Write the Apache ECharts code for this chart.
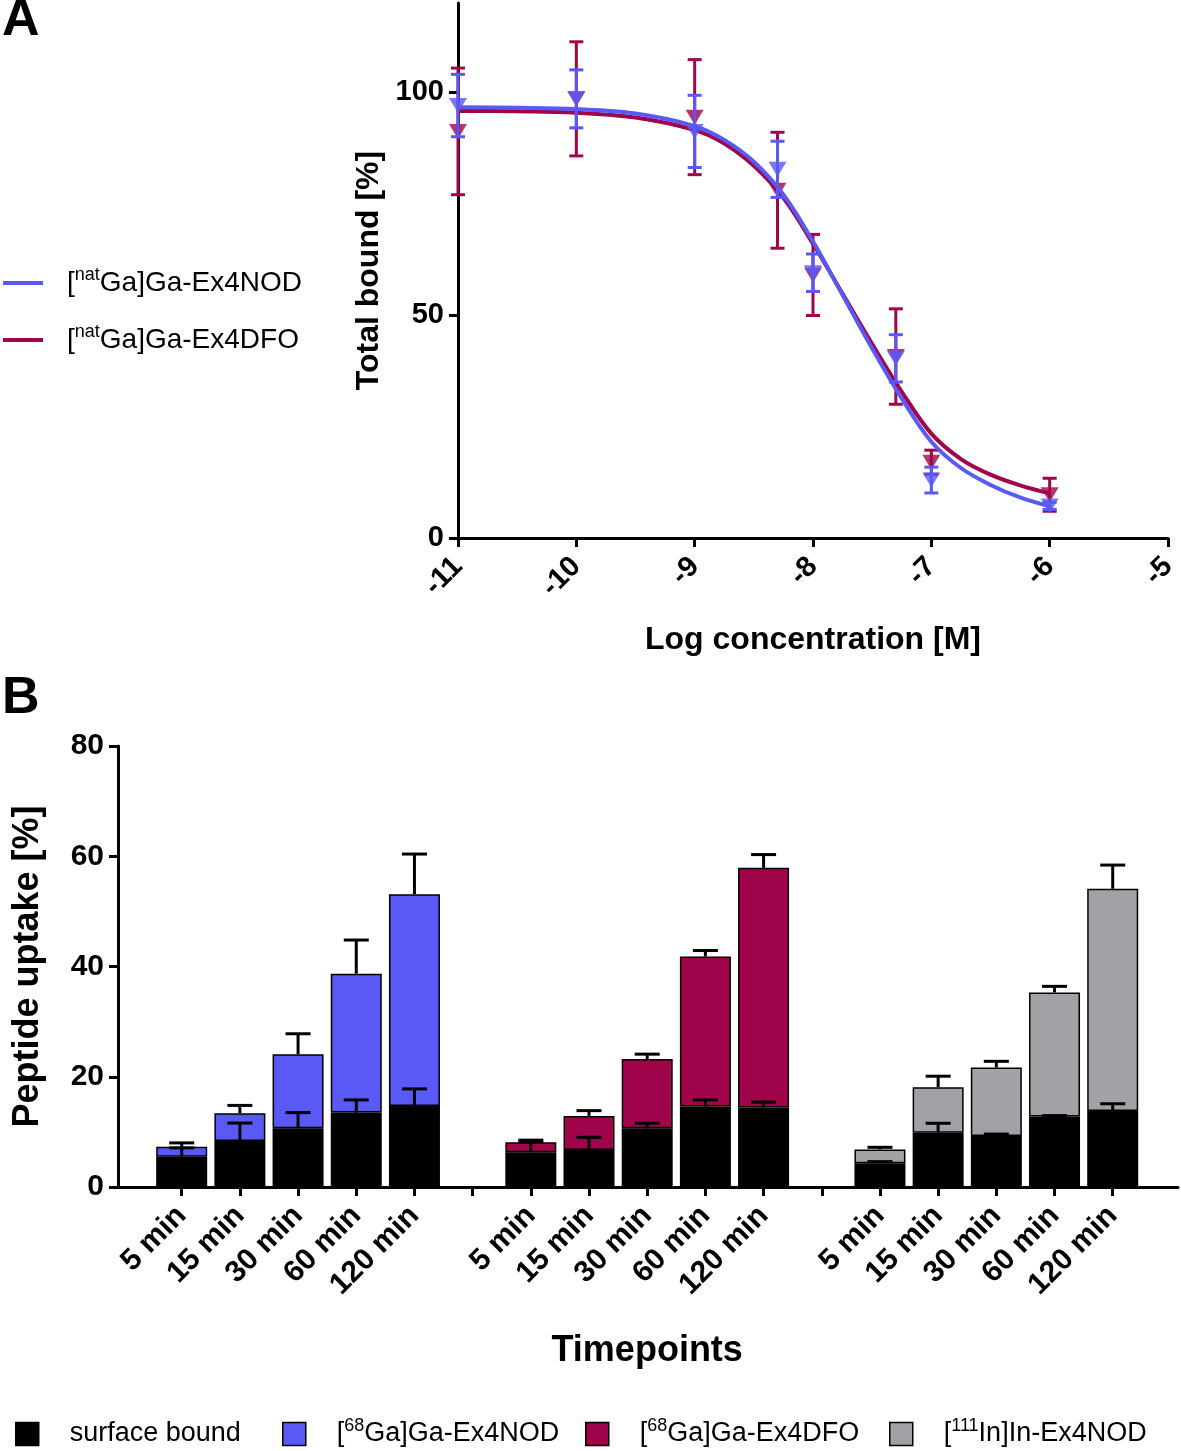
<!DOCTYPE html>
<html><head><meta charset="utf-8">
<script src="https://cdn.jsdelivr.net/npm/echarts@6/dist/echarts.min.js"></script>
<style>html,body{margin:0;padding:0;background:#fff}#c{width:1181px;height:1451px}</style>
</head><body><div id="c"></div>
<script>
const FONT = '"Liberation Sans", Arial, Helvetica, sans-serif';

// ---------- Panel A data ----------
const logConc = [-11, -10, -9, -8.3, -8, -7.3, -7, -6];
const nodMean = [97, 98.5, 91.2, 82.7, 59.5, 40.3, 13, 7.2];
const nodSD   = [7, 6.5, 8.1, 6.3, 4.2, 5.3, 2.9, 0.8];
const dfoMean = [91.2, 98.5, 94.4, 78, 59, 40.7, 17, 9.7];
const dfoSD   = [14.2, 12.8, 12.9, 13, 9.1, 10.7, 2.7, 3.7];
// fitted curves
const curveX   = [-11, -10.5, -10, -9.5, -9, -8.75, -8.5, -8.25, -8, -7.75, -7.5, -7.25, -7, -6.75, -6.5, -6.25, -6];
const nodCurve = [96.6, 96.5, 96.2, 95.2, 92.4, 89.3, 84.4, 77, 66.5, 54.5, 42.5, 31.3, 21.6, 15.7, 11.9, 9.1, 7.1];
const dfoCurve = [95.8, 95.7, 95.4, 94.3, 91.5, 88.5, 83.5, 76.3, 66, 54.8, 43.5, 32.8, 23.4, 17.7, 14.2, 11.8, 10];
const aYTicks = [0, 50, 100];
const aLegendNames = ['natNOD', 'natDFO'];
const aLegendLabels = ['[{s|nat}Ga]Ga-Ex4NOD', '[{s|nat}Ga]Ga-Ex4DFO'];

// ---------- Panel B data ----------
const timepoints = ['5 min', '15 min', '30 min', '60 min', '120 min'];
const surfNOD = [5.5, 8.35, 10.65, 13.5, 14.7];
const surfNODsd = [1.6, 3.25, 2.85, 2.3, 3.1];
const totNOD = [7.3, 13.4, 24.1, 38.7, 53.1];
const totNODsd = [0.7, 1.4, 3.7, 6.1, 7.3];
const surfDFO = [6.3, 6.7, 10.65, 14.6, 14.4];
const surfDFOsd = [1.9, 2.3, 0.9, 1.2, 1.0];
const totDFO = [8.1, 12.9, 23.2, 41.8, 57.9];
const totDFOsd = [0.4, 0.95, 0.9, 1.1, 2.4];
const surfIN = [4.3, 9.86, 9.25, 12.8, 13.8];
const surfINsd = [0.3, 1.7, 0.35, 0.15, 1.3];
const totIN = [6.8, 18.1, 21.7, 35.3, 54.1];
const totINsd = [0.4, 2.0, 1.1, 1.1, 4.3];
const bYTicks = [0, 20, 40, 60, 80];
const bNames = ['surface bound', '[68Ga]Ga-Ex4NOD', '[68Ga]Ga-Ex4DFO', '[111In]In-Ex4NOD'];
const bLabels = ['surface bound', '[{s|68}Ga]Ga-Ex4NOD', '[{s|68}Ga]Ga-Ex4DFO', '[{s|111}In]In-Ex4NOD'];

const BLUE = '#5959F6', RED = '#A0044B', GRAY = '#A2A2A6';

// build 17-slot arrays (5 bars, gap, 5 bars, gap, 5 bars)
const groupsSurf = [surfNOD, surfDFO, surfIN];
const groupsSurfSD = [surfNODsd, surfDFOsd, surfINsd];
const groupsTot = [totNOD, totDFO, totIN];
const groupsTotSD = [totNODsd, totDFOsd, totINsd];
const nSlots = 17;
const slotLabels = [];
for (let i = 0; i < nSlots; i++) slotLabels.push(i % 6 === 5 ? '' : timepoints[i % 6]);
const slotIds = slotLabels.map((_, i) => 's' + i);
const surfSlots = new Array(nSlots).fill(null);
const topSlots = [0, 1, 2].map(() => new Array(nSlots).fill(null));
const errB = [];
for (let g = 0; g < 3; g++) {
  for (let i = 0; i < 5; i++) {
    const s = g * 6 + i;
    surfSlots[s] = groupsSurf[g][i];
    topSlots[g][s] = +(groupsTot[g][i] - groupsSurf[g][i]).toFixed(3);
    errB.push([s, groupsSurf[g][i], groupsSurfSD[g][i]]);
    errB.push([s, groupsTot[g][i], groupsTotSD[g][i]]);
  }
}

function errA(color) {
  return function (params, api) {
    const x = api.value(0), m = api.value(1), sd = api.value(2);
    const t = api.coord([x, m + sd]), b = api.coord([x, m - sd]);
    const hw = 7, st = { stroke: color, lineWidth: 3 };
    return { type: 'group', children: [
      { type: 'line', shape: { x1: t[0], y1: t[1], x2: b[0], y2: b[1] }, style: st },
      { type: 'line', shape: { x1: t[0] - hw, y1: t[1], x2: t[0] + hw, y2: t[1] }, style: st },
      { type: 'line', shape: { x1: b[0] - hw, y1: b[1], x2: b[0] + hw, y2: b[1] }, style: st }
    ]};
  };
}
function errBRender(params, api) {
  const x = api.value(0), m = api.value(1), sd = api.value(2);
  const b = api.coord([x, m]), t = api.coord([x, m + sd]);
  const hw = 12.5, st = { stroke: '#000', lineWidth: 3 };
  return { type: 'group', children: [
    { type: 'line', shape: { x1: b[0], y1: b[1], x2: t[0], y2: t[1] }, style: st },
    { type: 'line', shape: { x1: t[0] - hw, y1: t[1], x2: t[0] + hw, y2: t[1] }, style: st }
  ]};
}

const axisLineStyle = { show: true, lineStyle: { color: '#000', width: 3 } };
const tickStyle = { show: true, length: 9, lineStyle: { color: '#000', width: 3 } };
const boldLabel = { color: '#000', fontFamily: FONT, fontWeight: 'bold' };
const richSup = {
  s: { fontSize: 18, fontFamily: FONT, color: '#000', lineHeight: 14, verticalAlign: 'top' }
};

// one legend per panel-B item (placed individually)
const bLegendLeft = [15, 282, 585, 889];
const bLegends = bNames.map((n, i) => ({
  data: [n], orient: 'horizontal', left: bLegendLeft[i], top: 1417, padding: 0,
  icon: 'rect', itemWidth: 23, itemHeight: 23,
  itemStyle: { borderColor: '#000', borderWidth: 1.5 },
  formatter: () => bLabels[i],
  textStyle: { fontSize: 27, fontFamily: FONT, color: '#000', lineHeight: 34, padding: [0, 0, 0, 26], rich: richSup }
}));

const option = {
  animation: false,
  backgroundColor: '#fff',
  title: [
    { text: 'A', left: 2, top: -5, padding: 0, textStyle: { fontSize: 52, fontWeight: 'bold', fontFamily: FONT, color: '#000' } },
    { text: 'B', left: 2, top: 673, padding: 0, textStyle: { fontSize: 52, fontWeight: 'bold', fontFamily: FONT, color: '#000' } }
  ],
  legend: [
    {
      data: aLegendNames, orient: 'vertical', left: 3, top: 266, itemGap: 23, padding: 0,
      icon: 'rect', itemWidth: 40, itemHeight: 4,
      formatter: n => aLegendLabels[aLegendNames.indexOf(n)],
      textStyle: { fontSize: 28, fontFamily: FONT, color: '#000', lineHeight: 34, padding: [0, 0, 0, 19], rich: richSup }
    }
  ].concat(bLegends),
  grid: [
    { left: 458, right: 13, top: 3, bottom: 913 },
    { left: 152.6, right: 39.2, top: 746, bottom: 264 },
    { left: 118, right: 3, top: 746, bottom: 264 }
  ],
  xAxis: [
    {
      gridIndex: 0, type: 'value', min: -11, max: -5, interval: 1,
      name: 'Log concentration [M]', nameLocation: 'middle', nameGap: 86,
      nameTextStyle: { fontSize: 32, fontWeight: 'bold', fontFamily: FONT, color: '#000' },
      axisLine: axisLineStyle, axisTick: tickStyle, splitLine: { show: false },
      axisLabel: Object.assign({ fontSize: 29, rotate: 45, margin: 24 }, boldLabel)
    },
    {
      gridIndex: 1, type: 'category', data: slotIds,
      axisLine: { show: false },
      axisTick: { show: true, alignWithLabel: true, interval: 0, length: 9, lineStyle: { color: '#000', width: 3 } },
      axisLabel: Object.assign({ fontSize: 30, rotate: 45, margin: 24, interval: 0,
        formatter: (v, i) => slotLabels[i] }, boldLabel),
      name: 'Timepoints', nameLocation: 'middle', nameGap: 146,
      nameTextStyle: { fontSize: 36, fontWeight: 'bold', fontFamily: FONT, color: '#000' }
    },
    {
      gridIndex: 2, type: 'value', min: 0, max: 1,
      axisLine: axisLineStyle, axisTick: { show: false }, axisLabel: { show: false }, splitLine: { show: false }
    }
  ],
  yAxis: [
    {
      gridIndex: 0, type: 'value', min: 0, max: 120,
      name: 'Total bound [%]', nameLocation: 'middle', nameGap: 70,
      nameTextStyle: { fontSize: 32, fontWeight: 'bold', fontFamily: FONT, color: '#000' },
      axisLine: axisLineStyle,
      axisTick: Object.assign({ customValues: aYTicks }, tickStyle),
      splitLine: { show: false },
      axisLabel: Object.assign({ fontSize: 29, margin: 14, customValues: aYTicks }, boldLabel)
    },
    {
      gridIndex: 1, type: 'value', min: 0, max: 80, interval: 20, show: false
    },
    {
      gridIndex: 2, type: 'value', min: 0, max: 80, interval: 20,
      name: 'Peptide uptake [%]', nameLocation: 'middle', nameGap: 72,
      nameTextStyle: { fontSize: 36, fontWeight: 'bold', fontFamily: FONT, color: '#000' },
      axisLine: axisLineStyle,
      axisTick: Object.assign({ customValues: bYTicks }, tickStyle),
      splitLine: { show: false },
      axisLabel: Object.assign({ fontSize: 30, margin: 14, customValues: bYTicks }, boldLabel)
    }
  ],
  series: [
    // Panel A - DFO (red) first
    { name: 'natDFO', type: 'line', xAxisIndex: 0, yAxisIndex: 0, color: RED,
      data: curveX.map((x, i) => [x, dfoCurve[i]]), smooth: 0.35, showSymbol: false,
      lineStyle: { width: 4, color: RED }, z: 2 },
    { name: 'dfoErr', type: 'custom', xAxisIndex: 0, yAxisIndex: 0, renderItem: errA(RED),
      data: logConc.map((x, i) => [x, dfoMean[i], dfoSD[i]]), z: 3 },
    { name: 'dfoPts', type: 'scatter', xAxisIndex: 0, yAxisIndex: 0, symbol: 'triangle', symbolRotate: 180,
      symbolSize: [18, 15], itemStyle: { color: RED }, data: logConc.map((x, i) => [x, dfoMean[i]]), z: 4 },
    // NOD (blue)
    { name: 'natNOD', type: 'line', xAxisIndex: 0, yAxisIndex: 0, color: BLUE,
      data: curveX.map((x, i) => [x, nodCurve[i]]), smooth: 0.35, showSymbol: false,
      lineStyle: { width: 4, color: BLUE }, z: 5 },
    { name: 'nodErr', type: 'custom', xAxisIndex: 0, yAxisIndex: 0, renderItem: errA(BLUE),
      data: logConc.map((x, i) => [x, nodMean[i], nodSD[i]]), z: 6 },
    { name: 'nodPts', type: 'scatter', xAxisIndex: 0, yAxisIndex: 0, symbol: 'triangle', symbolRotate: 180,
      symbolSize: [18, 15], itemStyle: { color: BLUE }, data: logConc.map((x, i) => [x, nodMean[i]]), z: 7 },
    // Panel B stacked bars
    { name: bNames[0], type: 'bar', xAxisIndex: 1, yAxisIndex: 1, stack: 'b', barWidth: 51,
      itemStyle: { color: '#000', borderColor: '#000', borderWidth: 1.5 }, data: surfSlots },
    { name: bNames[1], type: 'bar', xAxisIndex: 1, yAxisIndex: 1, stack: 'b', barWidth: 51,
      itemStyle: { color: BLUE, borderColor: '#000', borderWidth: 1.5 }, data: topSlots[0] },
    { name: bNames[2], type: 'bar', xAxisIndex: 1, yAxisIndex: 1, stack: 'b', barWidth: 51,
      itemStyle: { color: RED, borderColor: '#000', borderWidth: 1.5 }, data: topSlots[1] },
    { name: bNames[3], type: 'bar', xAxisIndex: 1, yAxisIndex: 1, stack: 'b', barWidth: 51,
      itemStyle: { color: GRAY, borderColor: '#000', borderWidth: 1.5 }, data: topSlots[2] },
    { name: 'errB', type: 'custom', xAxisIndex: 1, yAxisIndex: 1, renderItem: errBRender, data: errB, z: 10 }
  ]
};
const chart = echarts.init(document.getElementById('c'), null, { renderer: 'canvas' });
chart.setOption(option);
</script>
</body></html>
